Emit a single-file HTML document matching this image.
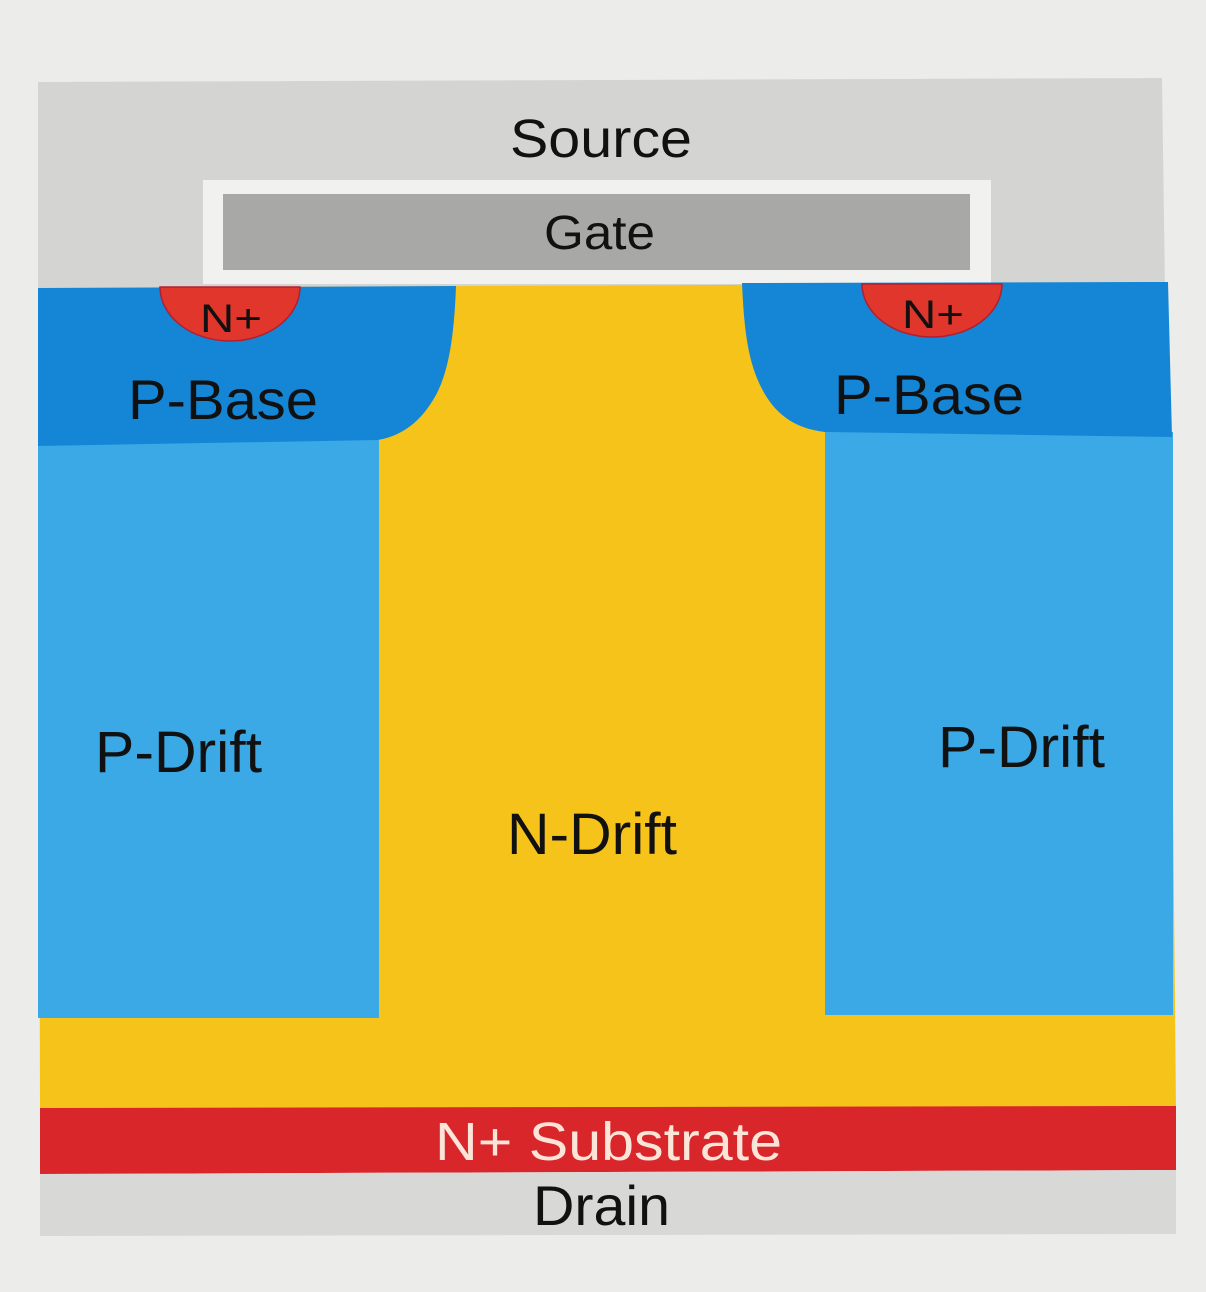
<!DOCTYPE html>
<html><head><meta charset="utf-8"><style>
html,body{margin:0;padding:0;background:#ecedeb;}
svg{display:block}
text{font-family:"Liberation Sans",Arial,sans-serif;fill:#111;}
</style></head><body>
<svg width="1206" height="1292" viewBox="0 0 1206 1292" xmlns="http://www.w3.org/2000/svg">
<rect x="0" y="0" width="1206" height="1292" fill="#ecedeb"/>
<polygon points="38,82 1162,78 1165,290 38,290" fill="#d4d4d2"/>
<rect x="203" y="180" width="788" height="104" fill="#f1f2ef"/>
<rect x="223" y="194" width="747" height="76" fill="#a8a8a7"/>
<polygon points="38,288 1168,283 1176,1110 40,1110" fill="#f6c31b"/>
<rect x="38" y="440" width="341" height="578" fill="#3ba9e6"/>
<rect x="825" y="432" width="348" height="583" fill="#3ba9e6"/>
<path d="M38,288 L456,286 C454,340 448,372 436,395 C420,424 400,436 378,440 L38,446 Z" fill="#1486d5"/>
<path d="M742,283 L1168,282 L1172,437 L825,432 C790,428 772,410 760,385 C748,360 744,330 742,283 Z" fill="#1486d5"/>
<path d="M160,287 A70,54 0 0 0 300,287 Z" fill="#e0362c" stroke="#b02030" stroke-width="1.5"/>
<path d="M862,284 A70,53 0 0 0 1002,284 Z" fill="#e0362c" stroke="#b02030" stroke-width="1.5"/>
<polygon points="40,1108 1176,1106 1176,1170 40,1174" fill="#d9262a"/>
<polygon points="40,1174 1176,1170 1176,1234 40,1236" fill="#d8d8d6"/>
<text x="510" y="157" font-size="54" textLength="182" lengthAdjust="spacingAndGlyphs">Source</text>
<text x="544" y="249" font-size="48" textLength="111" lengthAdjust="spacingAndGlyphs">Gate</text>
<text x="200" y="332" font-size="40" textLength="62" lengthAdjust="spacingAndGlyphs">N+</text>
<text x="902" y="328" font-size="40" textLength="62" lengthAdjust="spacingAndGlyphs">N+</text>
<text x="128" y="419" font-size="56" textLength="190" lengthAdjust="spacingAndGlyphs">P-Base</text>
<text x="834" y="414" font-size="56" textLength="190" lengthAdjust="spacingAndGlyphs">P-Base</text>
<text x="95" y="772" font-size="58" textLength="167" lengthAdjust="spacingAndGlyphs">P-Drift</text>
<text x="938" y="767" font-size="58" textLength="167" lengthAdjust="spacingAndGlyphs">P-Drift</text>
<text x="507" y="854" font-size="58" textLength="170" lengthAdjust="spacingAndGlyphs">N-Drift</text>
<text x="435" y="1160" font-size="54" textLength="347" lengthAdjust="spacingAndGlyphs" style="fill:#fbe4d8">N+ Substrate</text>
<text x="533" y="1225" font-size="56" textLength="137" lengthAdjust="spacingAndGlyphs">Drain</text>
</svg>
</body></html>
